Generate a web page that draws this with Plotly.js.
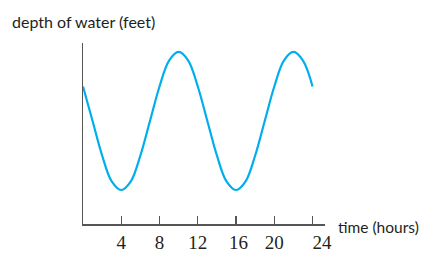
<!DOCTYPE html>
<html>
<head>
<meta charset="utf-8">
<script src="https://cdn.plot.ly/plotly-3.0.1.min.js"></script>
<style>html,body{margin:0;padding:0;background:#fff;}#chart{width:422px;height:254px;}</style>
</head>
<body>
<div id="chart"></div>
<script>
var hours = [0,1,2,3,4,5,6,7,8,9,10,11,12,13,14,15,16,17,18,19,20,21,22,23,24];
var depth = [12,10,8,6.5,6,6.5,8,10,12,13.5,14,13.5,12,10,8,6.5,6,6.5,8,10,12,13.5,14,13.5,12];
var tickVals = [4,8,12,16,20,24];
var tickText = ['4','8','12','\u00a016','20','\u00a0\u00a0\u00a0\u00a024'];
var yTitle = 'depth of water (feet)';
var xTitle = 'time (hours)';

var trace = {
  x: hours, y: depth, mode: 'lines', type: 'scatter',
  line: {color: '#00aeef', width: 2.2, shape: 'spline', smoothing: 1},
  hoverinfo: 'none'
};
var layout = {
  width: 422, height: 254,
  margin: {l: 83, r: 97, t: 43, b: 30, pad: 0},
  paper_bgcolor: '#fff', plot_bgcolor: '#fff',
  showlegend: false,
  xaxis: {
    range: [0, 25.3], showgrid: false, zeroline: false,
    showline: true, linecolor: '#555', linewidth: 1.5,
    tickmode: 'array', tickvals: tickVals, ticktext: tickText,
    ticks: 'inside', ticklen: 8, tickwidth: 1.2, tickcolor: '#555',
    tickfont: {family: 'Liberation Serif, serif', size: 19, color: '#231f20'},
    ticklabelstandoff: 1
  },
  yaxis: {
    range: [4.03, 14.52], showgrid: false, zeroline: false,
    showline: true, linecolor: '#555', linewidth: 1.5,
    showticklabels: false, ticks: ''
  },
  annotations: [
    {text: yTitle, xref: 'paper', yref: 'paper', x: -0.3, y: 1.1215,
     xanchor: 'left', yanchor: 'middle', showarrow: false,
     font: {family: 'Lato, sans-serif', size: 16, color: '#231f20'}},
    {text: xTitle, xref: 'paper', yref: 'paper', x: 1.0455, y: -0.0166,
     xanchor: 'left', yanchor: 'middle', showarrow: false,
     font: {family: 'Lato, sans-serif', size: 15.5, color: '#231f20'}}
  ]
};
Plotly.newPlot('chart', [trace], layout, {staticPlot: true, displayModeBar: false});
</script>
</body>
</html>
